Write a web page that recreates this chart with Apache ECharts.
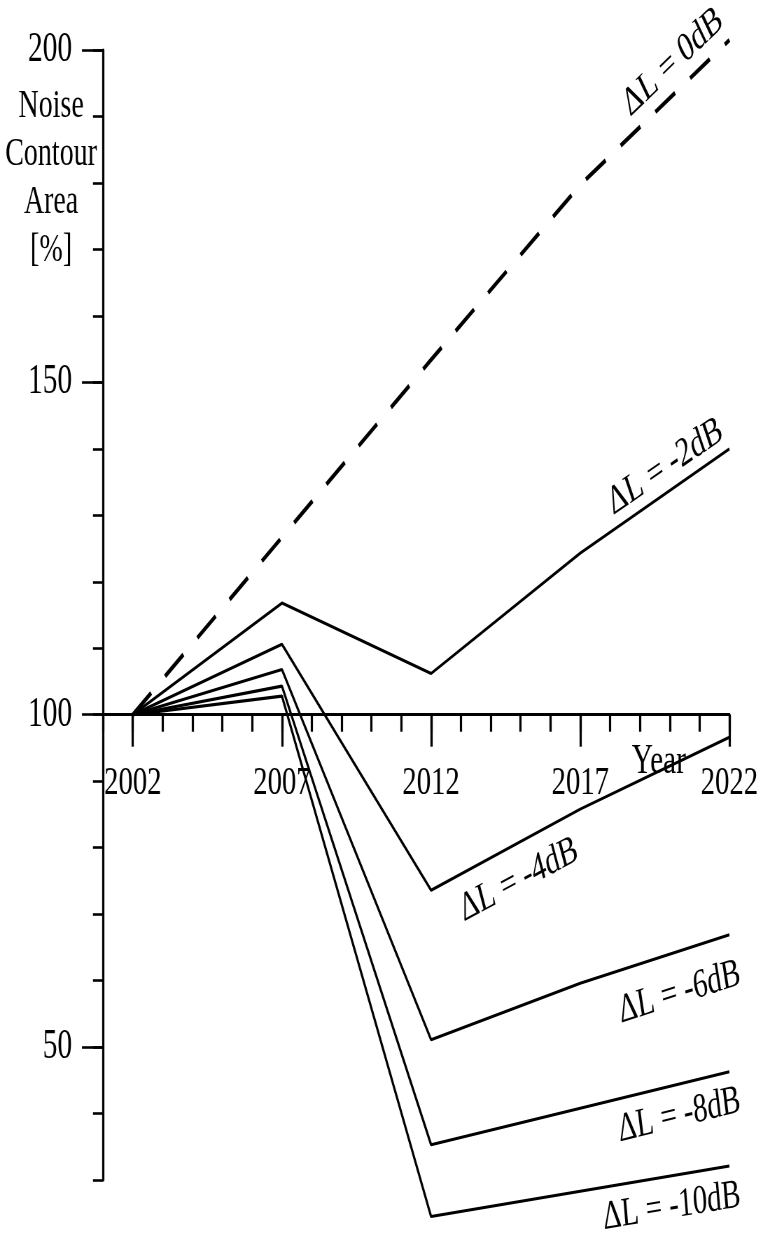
<!DOCTYPE html>
<html><head><meta charset="utf-8">
<script src="https://cdn.jsdelivr.net/npm/echarts@6/dist/echarts.min.js"></script>
<style>
html,body{margin:0;padding:0;overflow:hidden;background:#fff;}
#wrap{width:760px;height:1235px;overflow:hidden;position:relative;background:#fff;}
#chart{width:1086px;height:1235px;transform:scaleX(0.7);transform-origin:0 0;}
</style></head><body>
<div id="wrap"><div id="chart"></div></div>
<script>
// ---- data ----
const years = [2002, 2007, 2012, 2017, 2022];
const dL0  = [100, 126.7, 153.4, 179.7, 201.5];
const dL2  = [100, 116.8, 106.2, 124.3, 140.0];
const dL4  = [100, 110.6, 73.6, 85.8, 96.6];
const dL6  = [100, 106.8, 51.1, 59.6, 66.9];
const dL8  = [100, 104.3, 35.3, 40.8, 46.3];
const dL10 = [100, 102.8, 24.5, 28.3, 32.1];
const seriesNames = ['ΔL = 0dB', 'ΔL = -2dB', 'ΔL = -4dB', 'ΔL = -6dB', 'ΔL = -8dB', 'ΔL = -10dB'];
const xMajorTicks = [2002, 2007, 2012, 2017, 2022];
const yMajorTicks = [50, 100, 150, 200];
const yAxisTitle = 'Noise\nContour\nArea\n[%]';
const xAxisTitle = 'Year';

// ---- layout / style ----
const FONT = "'Liberation Serif','Times New Roman',serif";
const yMin = 30, yMax = 200, xMin = 2001, xMax = 2022;
const gridTop = 50, gridBottom = 55, gridLeft = 147.1, gridRight = 41.7;
const gridH = 1235 - gridTop - gridBottom;
const xAxisOffset = -((100 - yMin) / (yMax - yMin)) * gridH;

const labelStyles = [
  {idx: 4, rotate: 34.3, offset: [-79, -27]},
  {idx: 4, rotate: 25.9, offset: [-90, -23.5]},
  {idx: 2, rotate: 20.7, offset: [121, 35]},
  {idx: 4, rotate: 12.7, offset: [-82, 41]},
  {idx: 4, rotate: 9.9, offset: [-78, 31]},
  {idx: 4, rotate: 6.7, offset: [-86.5, 31]}
];
const seriesValues = [dL0, dL2, dL4, dL6, dL8, dL10];

const series = seriesValues.map((vals, si) => {
  const ls = labelStyles[si];
  const data = vals.map((v, i) => {
    const item = {value: [years[i], v]};
    if (i === ls.idx) {
      item.label = {
        show: true, formatter: seriesNames[si], position: 'inside',
        rotate: ls.rotate, offset: ls.offset, align: 'center', verticalAlign: 'middle',
        fontFamily: FONT, fontSize: 41, color: '#000'
      };
    }
    return item;
  });
  return {
    type: 'line', name: seriesNames[si], data: data,
    xAxisIndex: 0, yAxisIndex: 0, clip: false,
    showSymbol: true, symbol: 'circle', symbolSize: 0,
    label: {show: false},
    lineStyle: si === 0 ? {color: '#000', width: 4.4, type: [34, 26]} : {color: '#000', width: 3.1},
    itemStyle: {color: '#000'},
    emphasis: {disabled: true}, silent: true, z: 5
  };
});

const chart = echarts.init(document.getElementById('chart'), null, {renderer: 'canvas'});
chart.setOption({
  animation: false,
  backgroundColor: '#fff',
  grid: {left: gridLeft, right: gridRight, top: gridTop, bottom: gridBottom, containLabel: false},
  graphic: [{
    type: 'text', x: 73, y: 82, silent: true,
    style: {text: yAxisTitle, fontFamily: FONT, fontSize: 40, lineHeight: 48, align: 'center', verticalAlign: 'top', fill: '#000'}
  }],
  xAxis: [
    {type: 'value', min: xMin, max: xMax, interval: 1, position: 'bottom', offset: xAxisOffset,
     axisLine: {show: true, onZero: false, lineStyle: {color: '#000', width: 2.8}},
     axisTick: {show: true, length: 17, lineStyle: {color: '#000', width: 3.2}},
     axisLabel: {show: false}, splitLine: {show: false}},
    {type: 'value', min: xMin, max: xMax, position: 'bottom', offset: xAxisOffset,
     axisLine: {show: false, onZero: false},
     axisTick: {show: true, length: 32, customValues: xMajorTicks, lineStyle: {color: '#000', width: 3.2}},
     axisLabel: {show: true, customValues: xMajorTicks, margin: 48, fontSize: 41, fontFamily: FONT, color: '#000', formatter: v => String(v)},
     splitLine: {show: false},
     name: xAxisTitle, nameLocation: 'end', nameGap: -100.7,
     nameTextStyle: {fontFamily: FONT, fontSize: 42, color: '#000', align: 'center', verticalAlign: 'top', lineHeight: 42, padding: [26, 0, 0, 0]}}
  ],
  yAxis: [
    {type: 'value', min: yMin, max: yMax, interval: 10, position: 'left',
     axisLine: {show: true, onZero: false, lineStyle: {color: '#000', width: 3.2}},
     axisTick: {show: true, length: 14.3, lineStyle: {color: '#000', width: 2.6}},
     axisLabel: {show: false}, splitLine: {show: false}},
    {type: 'value', min: yMin, max: yMax, position: 'left',
     axisLine: {show: false, onZero: false},
     axisTick: {show: true, length: 30, customValues: yMajorTicks, lineStyle: {color: '#000', width: 2.6}},
     axisLabel: {show: true, customValues: yMajorTicks, margin: 44, fontSize: 42, fontFamily: FONT, color: '#000', formatter: v => String(v)},
     splitLine: {show: false}}
  ],
  series: series
});
</script>
</body></html>
